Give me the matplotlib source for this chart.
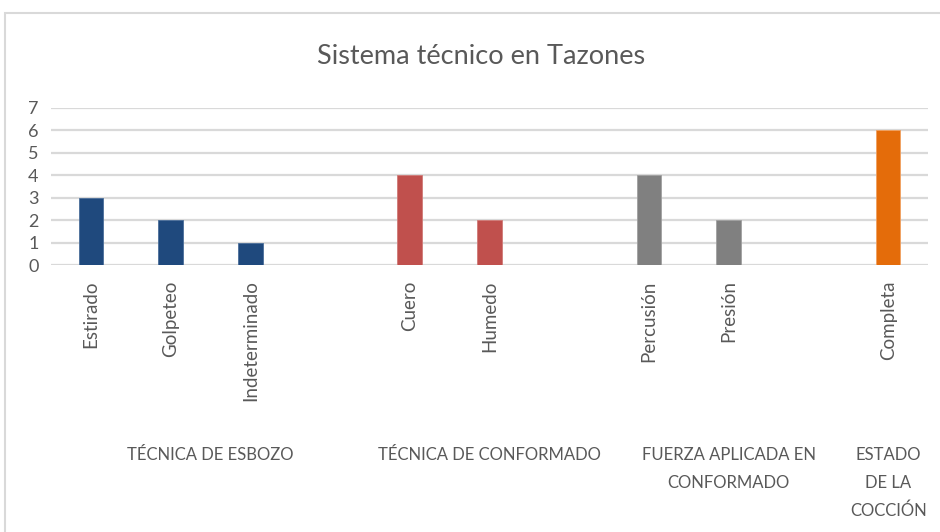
import matplotlib
matplotlib.use("Agg")
import matplotlib.pyplot as plt
from matplotlib.patches import Rectangle

plt.rcParams['font.family'] = ['Lato', 'DejaVu Sans']

# Category slots (empty strings separate the groups)
categories = ["Estirado", "Golpeteo", "Indeterminado", "",
              "Cuero", "Humedo", "",
              "Percusión", "Presión", "",
              "Completa"]
values = [3, 2, 1, None, 4, 2, None, 4, 2, None, 6]
group_of = [0, 0, 0, None, 1, 1, None, 2, 2, None, 3]

groups = ["TÉCNICA DE ESBOZO", "TÉCNICA DE CONFORMADO",
          "FUERZA APLICADA EN\nCONFORMADO", "ESTADO\nDE LA\nCOCCIÓN"]
group_spans = [(0, 3), (4, 6), (7, 9), (10, 10)]
group_colors = ["#1F497D", "#C0504D", "#808080", "#E46C0A"]
edge_colors = ["#4A6E9A", "#D07A77", "#A0A0A0", "#F0A060"]

yticks = [0, 1, 2, 3, 4, 5, 6, 7]
title = "Sistema técnico en Tazones"

W, H = 940, 532
fig = plt.figure(figsize=(W / 100, H / 100), dpi=100)

# chart border
fig.patches.append(Rectangle((5 / W, -0.1), 1.2, (H - 13) / H + 0.1,
                             transform=fig.transFigure, fill=False,
                             edgecolor="#D9D9D9", linewidth=1.5))

ax = fig.add_axes([51 / W, (H - 265) / H, 877 / W, 157 / H])
ax.set_xlim(-0.5, len(categories) - 0.5)
ax.set_ylim(0, 7)

for i, (v, g) in enumerate(zip(values, group_of)):
    if v is None:
        continue
    ax.bar(i, v, width=0.31, color=group_colors[g], edgecolor=edge_colors[g],
           linewidth=0.6, zorder=3)

ax.set_yticks(yticks)
ax.set_yticklabels([str(t) for t in yticks], fontsize=13, color="#595959")
ax.grid(axis="y", color="#D9D9D9", linewidth=1.6, zorder=0)
ax.tick_params(axis="both", length=0)
ax.tick_params(axis="y", pad=9)
for s in ax.spines.values():
    s.set_visible(False)

ax.set_xticks(range(len(categories)))
ax.set_xticklabels(categories, rotation=90, fontsize=13.5, color="#595959",
                   va="top", ha="center")
ax.tick_params(axis="x", pad=11)

# group labels beneath the category labels
for label, (a, b) in zip(groups, group_spans):
    xc = (a + b) / 2
    ax.text(xc, -(447 - 265) / 157, label, transform=ax.get_xaxis_transform(),
            fontsize=12, color="#595959", ha="center", va="top",
            linespacing=1.9)

fig.text(481 / W, 1 - 57 / H, title, fontsize=19.5, color="#595959",
         ha="center", va="center")

fig.savefig("out.png", dpi=100)
